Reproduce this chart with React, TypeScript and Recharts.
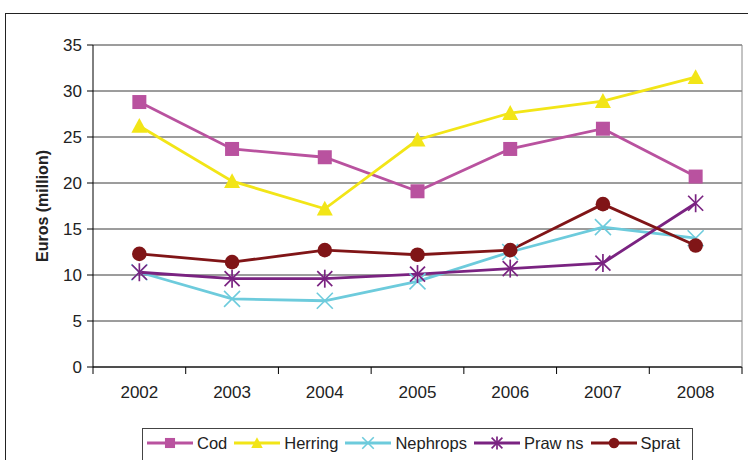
import React from "react";
import { LineChart, Line, XAxis, YAxis, CartesianGrid } from "recharts";

const years = ["2002", "2003", "2004", "2005", "2006", "2007", "2008"];
const cod = [28.8, 23.7, 22.8, 19.1, 23.7, 25.9, 20.7];
const herring = [26.2, 20.2, 17.2, 24.7, 27.6, 28.9, 31.5];
const nephrops = [10.3, 7.4, 7.2, 9.3, 12.5, 15.2, 14.0];
const prawns = [10.3, 9.6, 9.6, 10.1, 10.7, 11.3, 17.8];
const sprat = [12.3, 11.4, 12.7, 12.2, 12.7, 17.7, 13.2];
const yTicks = [0, 5, 10, 15, 20, 25, 30, 35];

const data = years.map((y, i) => ({
  year: y,
  Cod: cod[i],
  Herring: herring[i],
  Nephrops: nephrops[i],
  Prawns: prawns[i],
  Sprat: sprat[i],
}));

const W = 748;
const H = 460;
const M = { top: 45, right: 5, bottom: 63, left: 33 };
const YW = 60;
const RW = 1;
const PLOT_W = W - M.left - M.right - YW - RW;
const BAND = PLOT_W / years.length;
const FONT = "'Liberation Sans', Arial, sans-serif";
const FS = 17;

type Shape = "square" | "triangle" | "x" | "star" | "circle";

const Marker = ({ cx, cy, shape, color, s = 1 }: any) => {
  if (cx == null || cy == null) return null;
  if (shape === "square") {
    const h = 7 * s;
    return <rect x={cx - h} y={cy - h} width={2 * h} height={2 * h} fill={color} />;
  }
  if (shape === "triangle") {
    const h = 8 * s;
    return (
      <polygon
        points={`${cx},${cy - h} ${cx + h},${cy + h * 0.85} ${cx - h},${cy + h * 0.85}`}
        fill={color}
      />
    );
  }
  if (shape === "circle") {
    return <circle cx={cx} cy={cy} r={7.3 * s} fill={color} />;
  }
  if (shape === "x") {
    const h = 8 * s;
    return (
      <g stroke={color} strokeWidth={1.6}>
        <line x1={cx - h} y1={cy - h} x2={cx + h} y2={cy + h} />
        <line x1={cx - h} y1={cy + h} x2={cx + h} y2={cy - h} />
      </g>
    );
  }
  const h = 7.5 * s;
  return (
    <g stroke={color} strokeWidth={1.7}>
      <line x1={cx - h} y1={cy - h} x2={cx + h} y2={cy + h} />
      <line x1={cx - h} y1={cy + h} x2={cx + h} y2={cy - h} />
      <line x1={cx} y1={cy - h * 1.2} x2={cx} y2={cy + h * 1.2} />
    </g>
  );
};

const series: { key: string; label: string; color: string; shape: Shape }[] = [
  { key: "Cod", label: "Cod", color: "#B9529F", shape: "square" },
  { key: "Herring", label: "Herring", color: "#F2E517", shape: "triangle" },
  { key: "Nephrops", label: "Nephrops", color: "#6DCBDC", shape: "x" },
  { key: "Prawns", label: "Praw ns", color: "#7A2381", shape: "star" },
  { key: "Sprat", label: "Sprat", color: "#801517", shape: "circle" },
];

const XTick = (props: any) => {
  const { x, y, payload, index } = props;
  const left = x - BAND / 2;
  return (
    <g>
      <line x1={left} x2={left} y1={y} y2={y + 7} stroke="#000" strokeWidth={1} />
      {index === years.length - 1 && (
        <line x1={x + BAND / 2} x2={x + BAND / 2} y1={y} y2={y + 7} stroke="#000" strokeWidth={1} />
      )}
      <text x={x} y={y + 31} textAnchor="middle" fontSize={FS} fill="#222" fontFamily={FONT}>
        {payload.value}
      </text>
    </g>
  );
};

const YTick = (props: any) => {
  const { x, y, payload } = props;
  return (
    <text x={x - 3} y={y + 6} textAnchor="end" fontSize={FS} fill="#222" fontFamily={FONT}>
      {payload.value}
    </text>
  );
};

export default function App() {
  return (
    <div style={{ position: "absolute", left: 0, top: 0, width: W, height: H, overflow: "hidden", background: "#fff" }}>
      <div
        style={{
          position: "absolute",
          left: 5,
          top: 13,
          width: W + 20,
          height: H + 20,
          border: "1px solid #222",
          boxSizing: "border-box",
        }}
      />
      <div style={{ position: "absolute", left: 0, top: 0 }}>
        <LineChart width={W} height={H} data={data} margin={M}>
          <CartesianGrid vertical={false} stroke="#3a3a3a" strokeWidth={1} />
          <XAxis
            dataKey="year"
            scale="band"
            tick={<XTick />}
            tickLine={false}
            tickSize={0}
            tickMargin={0}
            height={30}
            axisLine={{ stroke: "#000", strokeWidth: 1 }}
            interval={0}
          />
          <YAxis
            domain={[0, 35]}
            ticks={yTicks}
            width={YW}
            tick={<YTick />}
            tickSize={6}
            tickLine={{ stroke: "#000" }}
            axisLine={{ stroke: "#000" }}
            interval={0}
            label={{
              value: "Euros (million)",
              angle: -90,
              position: "insideLeft",
              offset: 9,
              style: { fontFamily: FONT, fontSize: 16, fontWeight: "bold", fill: "#222", textAnchor: "middle" },
            }}
          />
          <YAxis
            yAxisId="r"
            orientation="right"
            width={RW}
            tick={false}
            tickLine={false}
            axisLine={{ stroke: "#888" }}
            domain={[0, 35]}
          />
          {series.map((s) => (
            <Line
              key={s.key}
              dataKey={s.key}
              stroke={s.color}
              strokeWidth={2.8}
              isAnimationActive={false}
              dot={(p: any) => <Marker key={`${s.key}-${p.index}`} cx={p.cx} cy={p.cy} shape={s.shape} color={s.color} />}
              activeDot={false}
            />
          ))}
        </LineChart>
      </div>
      <div
        style={{
          position: "absolute",
          left: 142,
          top: 428,
          width: 551,
          height: 40,
          border: "1px solid #444",
          boxSizing: "border-box",
          display: "flex",
          alignItems: "flex-start",
          paddingLeft: 4,
          paddingTop: 3,
          fontFamily: FONT,
          fontSize: 16.5,
          color: "#222",
        }}
      >
        {series.map((s) => (
          <div key={s.key} style={{ display: "flex", alignItems: "center", marginRight: 7, height: 22 }}>
            <svg width={46} height={22} style={{ marginRight: 4 }}>
              <line x1={0} x2={46} y1={11} y2={11} stroke={s.color} strokeWidth={2.8} />
              <Marker cx={23} cy={11} shape={s.shape} color={s.color} s={0.72} />
            </svg>
            <span>{s.label}</span>
          </div>
        ))}
      </div>
    </div>
  );
}
